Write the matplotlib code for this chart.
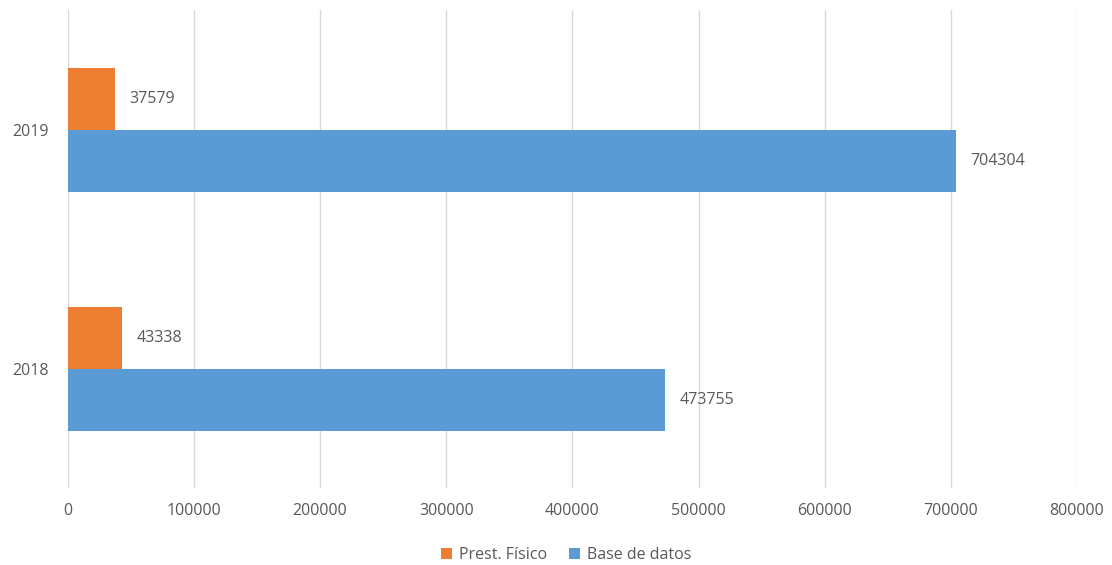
import matplotlib.pyplot as plt
import numpy as np

plt.rcParams['font.family'] = ['Open Sans', 'DejaVu Sans']

anios = ['2018', '2019']
prest_fisico = [43338, 37579]
base_datos = [473755, 704304]

gris = '#595959'
naranja = '#ED7D31'
azul = '#5B9BD5'

fig = plt.figure(figsize=(11.12, 5.65), dpi=100)
ax = fig.add_axes([0.061, 0.136, 0.9075, 0.846])

y = np.arange(len(anios))
h = 0.26
b1 = ax.barh(y + h / 2, prest_fisico, height=h, color=naranja, label='Prest. Físico', zorder=3)
b2 = ax.barh(y - h / 2, base_datos, height=h, color=azul, label='Base de datos', zorder=3)

# etiquetas de valores
for barras in (b1, b2):
    for barra in barras:
        v = barra.get_width()
        ax.annotate(str(int(v)), (v, barra.get_y() + barra.get_height() / 2),
                    xytext=(10, 0), textcoords='offset points', va='center', ha='left',
                    fontsize=11.5, color=gris)

ax.set_xlim(0, 800000)
ax.set_ylim(-0.5, 1.5)
ax.set_xticks(np.arange(0, 800001, 100000))
ax.set_yticks(y)
ax.set_yticklabels(anios)
ax.tick_params(length=0, labelsize=11.5, labelcolor=gris)
ax.tick_params(axis='x', pad=11)
ax.tick_params(axis='y', pad=14)
ax.grid(axis='x', color='#D9D9D9', linewidth=1, zorder=0)
for s in ax.spines.values():
    s.set_visible(False)

fig.legend(handles=[b1, b2], loc='center', bbox_to_anchor=(0.509, 0.017), ncol=2, frameon=False,
           fontsize=11.5, labelcolor=gris, handlelength=0.7, handleheight=0.7, columnspacing=1.4,
           handletextpad=0.4)

plt.savefig('out.png')
